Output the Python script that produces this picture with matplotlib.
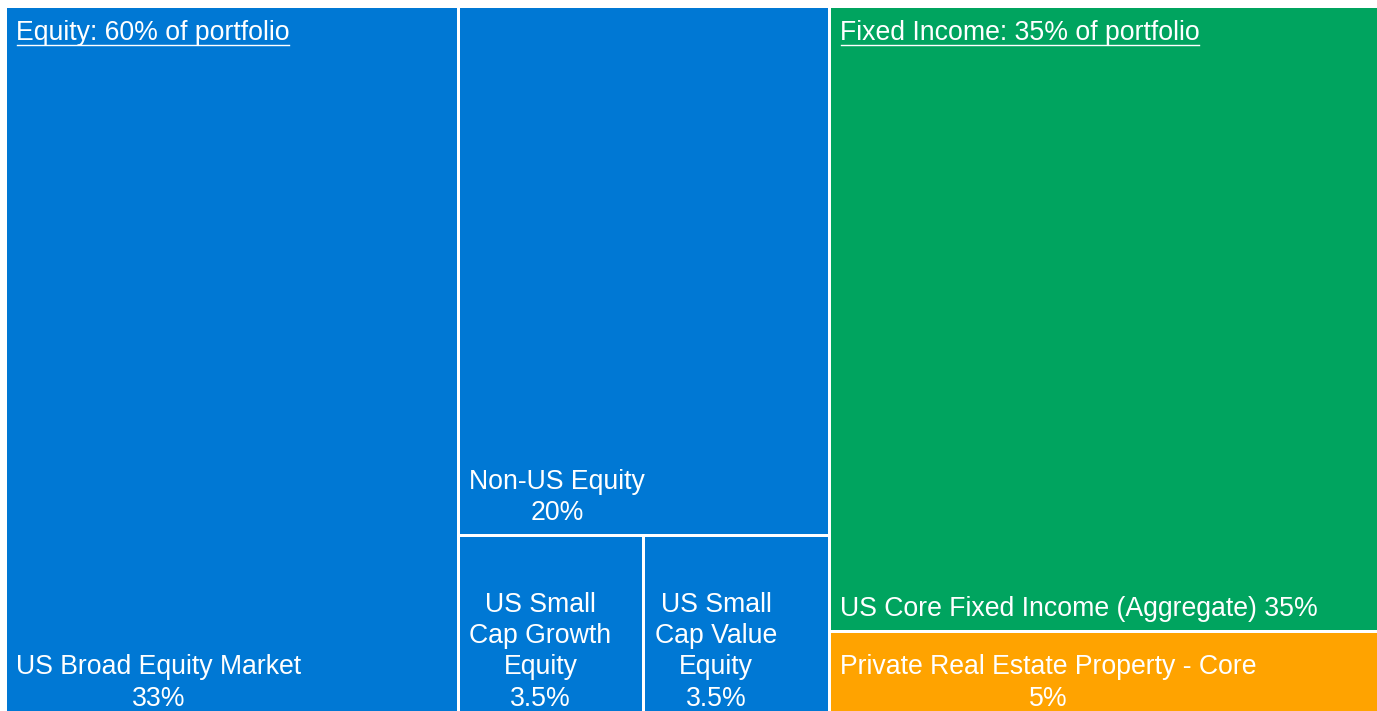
import matplotlib
matplotlib.use('Agg')
import matplotlib.pyplot as plt
from matplotlib.patches import Rectangle
from matplotlib.lines import Line2D

plt.rcParams['font.family'] = ['Liberation Sans', 'DejaVu Sans']

# ---- data ----
group_names = ['Equity', 'Fixed Income', 'Real Estate']
group_values = [60, 35, 5]
group_headers = ['Equity: 60% of portfolio', 'Fixed Income: 35% of portfolio']

asset_names = ['US Broad Equity Market', 'Non-US Equity',
               'US Small\nCap Growth\nEquity', 'US Small\nCap Value\nEquity',
               'US Core Fixed Income (Aggregate)', 'Private Real Estate Property - Core']
asset_values = [33, 20, 3.5, 3.5, 35, 5]
asset_labels = ['US Broad Equity Market\n33%', 'Non-US Equity\n20%',
                'US Small\nCap Growth\nEquity\n3.5%', 'US Small\nCap Value\nEquity\n3.5%',
                'US Core Fixed Income (Aggregate) 35%',
                'Private Real Estate Property - Core\n5%']

BLUE = '#0078D4'
GREEN = '#00A45F'
ORANGE = '#FFA300'
asset_colors = [BLUE, BLUE, BLUE, BLUE, GREEN, ORANGE]

DPI = 100
W, H = 1377, 711
fig = plt.figure(figsize=(W / DPI, H / DPI), dpi=DPI)
fig.patch.set_facecolor('white')
# axes extends slightly below the visible image (chart is cropped at bottom)
ax = fig.add_axes([4.5 / W, (H - 720) / H, 1374 / W, (720 - 5.5) / H])
ax.set_xlim(0, 100)
ax.set_ylim(100, 0)
ax.axis('off')

# ---- layout computed from values ----
total = sum(asset_values)
eq_w = 100 * sum(asset_values[:4]) / total           # equity block width
fi_w = 100 - eq_w
broad_w = eq_w * asset_values[0] / sum(asset_values[:4])
rest_w = eq_w - broad_w
rest_sum = sum(asset_values[1:4])
nonus_h = 100 * asset_values[1] / rest_sum
small_h = 100 - nonus_h
g_w = rest_w * asset_values[2] / (asset_values[2] + asset_values[3])
v_w = rest_w - g_w
core_h = 100 * asset_values[4] / (asset_values[4] + asset_values[5])
re_h = 100 - core_h

rects = [
    (0, 0, broad_w, 100),
    (broad_w, 0, rest_w, nonus_h),
    (broad_w, nonus_h, g_w, small_h),
    (broad_w + g_w, nonus_h, v_w, small_h),
    (eq_w, 0, fi_w, core_h),
    (eq_w, core_h, fi_w, re_h),
]

px = 72 / DPI  # points per pixel
FS = 19.2

for (x, y, w, h), c, lab in zip(rects, asset_colors, asset_labels):
    ax.add_patch(Rectangle((x, y), w, h, facecolor=c, edgecolor='white',
                           linewidth=3 * px))
    ax.annotate(lab, xy=(x, y + h), xytext=(11.5 * px, 8.5 * px),
                textcoords='offset points', ha='left', va='bottom',
                multialignment='center', color='white', fontsize=FS,
                linespacing=1.26)

header_texts = []
for (x, y, w, h), hdr in zip([rects[0], rects[4]], group_headers):
    t = ax.annotate(hdr, xy=(x, y), xytext=(11.5 * px, -34.5 * px),
                    textcoords='offset points', ha='left', va='baseline',
                    color='white', fontsize=FS)
    header_texts.append(t)

fig.canvas.draw()
renderer = fig.canvas.get_renderer()
for t in header_texts:
    bb = t.get_window_extent(renderer)
    yline = bb.y0 + 1.5
    fig.add_artist(Line2D([bb.x0 + 1, bb.x1 - 1], [yline, yline],
                          transform=None, color='white', linewidth=1.4 * px))

fig.savefig('out.png', dpi=DPI)
